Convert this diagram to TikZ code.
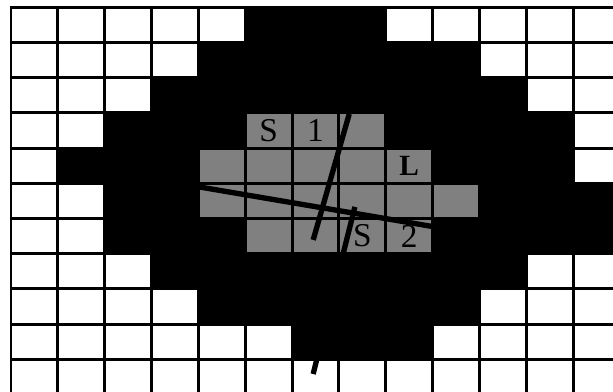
\documentclass[tikz,border=0pt]{standalone}
\usepackage{fontspec}
\setmainfont{Liberation Serif}
\usetikzlibrary{calc}

\tikzset{
  gridline/.style={line width=2.2pt, line cap=rect},
  cellmark/.style={inner sep=0pt, font=\fontsize{25}{25}\selectfont},
  cutline/.style={line width=4pt}
}

\begin{document}
\begin{tikzpicture}[x=35.14pt, y=-26.4pt]
\clip (-0.235,-0.207) rectangle (12.85,10.93);
\fill[white] (-0.235,-0.207) rectangle (12.85,10.93);

% Black region
\foreach \r/\a/\b in {0/5/7, 1/4/9, 2/3/10, 3/2/11, 4/1/11, 5/2/12, 6/2/12, 7/3/10, 8/4/9, 9/6/8}
  \fill[black] (\a,\r) rectangle (\b+1,\r+1);

% Grey cells
\foreach \r/\a/\b in {3/5/7, 4/4/8, 5/4/9, 6/5/8}
  \fill[gray] (\a,\r) rectangle (\b+1,\r+1);

% Grid
\foreach \i in {0,...,13}
  \draw[gridline] (\i,0) -- (\i,11);
\foreach \j in {0,...,11}
  \draw[gridline] (0,\j) -- (13,\j);

% Labels
\node[cellmark] (sone) at (5.5,3.5) {S};
\node[cellmark] (one) at (6.5,3.5) {1};
\node[cellmark, font=\bfseries\fontsize{22}{22}\selectfont] (ell) at (8.5,4.5) {L};
\node[cellmark] (stwo) at (7.5,6.5) {S};
\node[cellmark] (two) at (8.5,6.5) {2};

% Cut lines
\coordinate (longA) at (4.0,5.10);
\coordinate (longB) at (9.0,6.23);
\coordinate (steepA) at (7.22,3.03);
\coordinate (steepB) at (6.45,6.61);
\coordinate (shortA) at (7.34,5.67);
\coordinate (shortB) at (6.45,10.42);
\draw[cutline] (longA) -- (longB);
\draw[cutline] (steepA) -- (steepB);
\draw[cutline] (shortA) -- (shortB);
\end{tikzpicture}
\end{document}
